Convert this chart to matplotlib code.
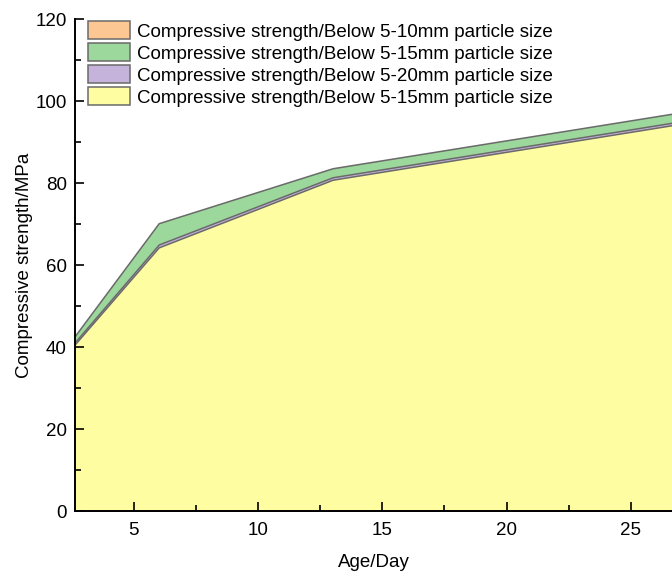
import matplotlib
matplotlib.use("Agg")
import matplotlib.pyplot as plt

plt.rcParams['font.family'] = ['Liberation Sans', 'DejaVu Sans']

# age in days
age = [2.6, 6, 13, 28]

# compressive strength, MPa
s_10 = [41.8, 68.5, 82.8, 97.4]     # 5-10mm, hidden behind green
s_15 = [42.5, 70.2, 83.6, 98.2]     # 5-15mm
s_20 = [41.0, 65.0, 81.4, 96.0]     # 5-20mm
s_15b = [40.5, 64.3, 80.8, 95.4]    # 5-15mm (front)

labels = ['Compressive strength/Below 5-10mm particle size',
          'Compressive strength/Below 5-15mm particle size',
          'Compressive strength/Below 5-20mm particle size',
          'Compressive strength/Below 5-15mm particle size']
colors = ['#FDC794', '#9CD89C', '#C5B3DC', '#FFFDA1']

fig = plt.figure(figsize=(6.72, 5.71), dpi=100)
ax = fig.add_axes([75/672, 60/571, 597/672, 492/571])

for y, c, lab in zip([s_10, s_15, s_20, s_15b], colors, labels):
    ax.fill_between(age, 0, y, facecolor=c, edgecolor='#6a6a6a', linewidth=1.1, label=lab)

ax.set_xlim(2.63, 26.66)
ax.set_ylim(0, 120)
ax.set_xticks([5, 10, 15, 20, 25])
ax.set_xticks([7.5, 12.5, 17.5, 22.5], minor=True)
ax.set_yticks([0, 20, 40, 60, 80, 100, 120])
ax.set_yticks([10, 30, 50, 70, 90, 110], minor=True)
ax.tick_params(which='both', direction='in', width=1.2, labelsize=13.5, pad=6)
ax.tick_params(which='major', length=6.5)
ax.tick_params(which='minor', length=4.3)
ax.tick_params(axis='x', pad=8)

ax.spines['top'].set_visible(False)
ax.spines['right'].set_visible(False)
ax.spines['left'].set_linewidth(1.4)
ax.spines['bottom'].set_linewidth(1.4)

ax.set_xlabel('Age/Day', fontsize=13.5, labelpad=11)
ax.set_ylabel('Compressive strength/MPa', fontsize=13.5, labelpad=2)

ax.legend(loc='upper left', bbox_to_anchor=(0.0066, 1.014), frameon=False,
          fontsize=13.5, handlelength=2.2, handleheight=1.1,
          labelspacing=0.14, handletextpad=0.4, borderaxespad=0.1)

fig.savefig('out.png', dpi=100)
